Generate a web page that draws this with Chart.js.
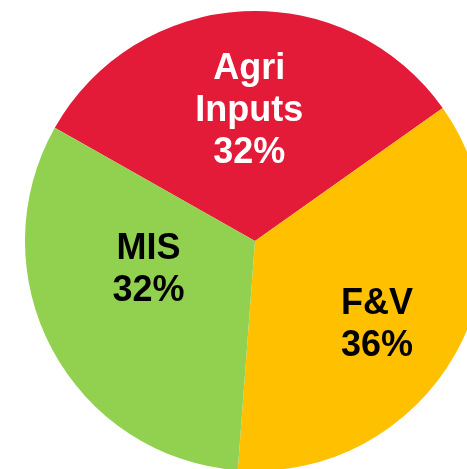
<!DOCTYPE html>
<html>
<head>
<meta charset="utf-8">
<script src="https://cdn.jsdelivr.net/npm/chart.js@4/dist/chart.umd.min.js"></script>
<style>
  html, body { margin: 0; padding: 0; width: 467px; height: 469px; overflow: hidden; background: #fff; }
  #grafico { position: absolute; left: 0; top: 0; }
</style>
</head>
<body>
<canvas id="grafico" width="510" height="482"></canvas>
<script>
var categorias = [["Agri", "Inputs"], ["F&V"], ["MIS"]];
var valores = [32, 36, 32];
var cores = ['#E31A38', '#FFC000', '#92D050'];
var coresTexto = ['#FFFFFF', '#000000', '#000000'];
// deslocamento do rotulo em relacao ao ponto medio da fatia
var ajustes = [[0, -15], [22, 27], [-5, -25]];

var rotulos = {
    id: 'rotulos',
    afterDatasetsDraw: function (chart) {
        var ctx = chart.ctx;
        var meta = chart.getDatasetMeta(0);
        ctx.save();
        ctx.font = 'bold 36px "Liberation Sans", Arial, sans-serif';
        ctx.textAlign = 'center';
        ctx.textBaseline = 'middle';
        meta.data.forEach(function (arco, i) {
            var pos = arco.tooltipPosition();
            var linhas = categorias[i].concat([valores[i] + '%']);
            var alt = 42;
            var x = pos.x + ajustes[i][0];
            var y0 = pos.y + ajustes[i][1] - (linhas.length - 1) * alt / 2;
            ctx.fillStyle = coresTexto[i];
            linhas.forEach(function (t, j) {
                ctx.fillText(t, x, y0 + j * alt);
            });
        });
        ctx.restore();
    }
};

var ctx = document.getElementById("grafico");

var myChart = new Chart(ctx, {
    type: 'pie',
    data: {
        labels: categorias.map(function (c) { return c.join(' '); }),
        datasets: [{
            data: valores,
            backgroundColor: cores,
            borderWidth: 0
        }]
    },
    options: {
        responsive: false,
        animation: false,
        rotation: -60.5,
        layout: { padding: 11 },
        plugins: {
            legend: { display: false },
            tooltip: { enabled: false }
        }
    },
    plugins: [rotulos]
});
</script>
</body>
</html>
